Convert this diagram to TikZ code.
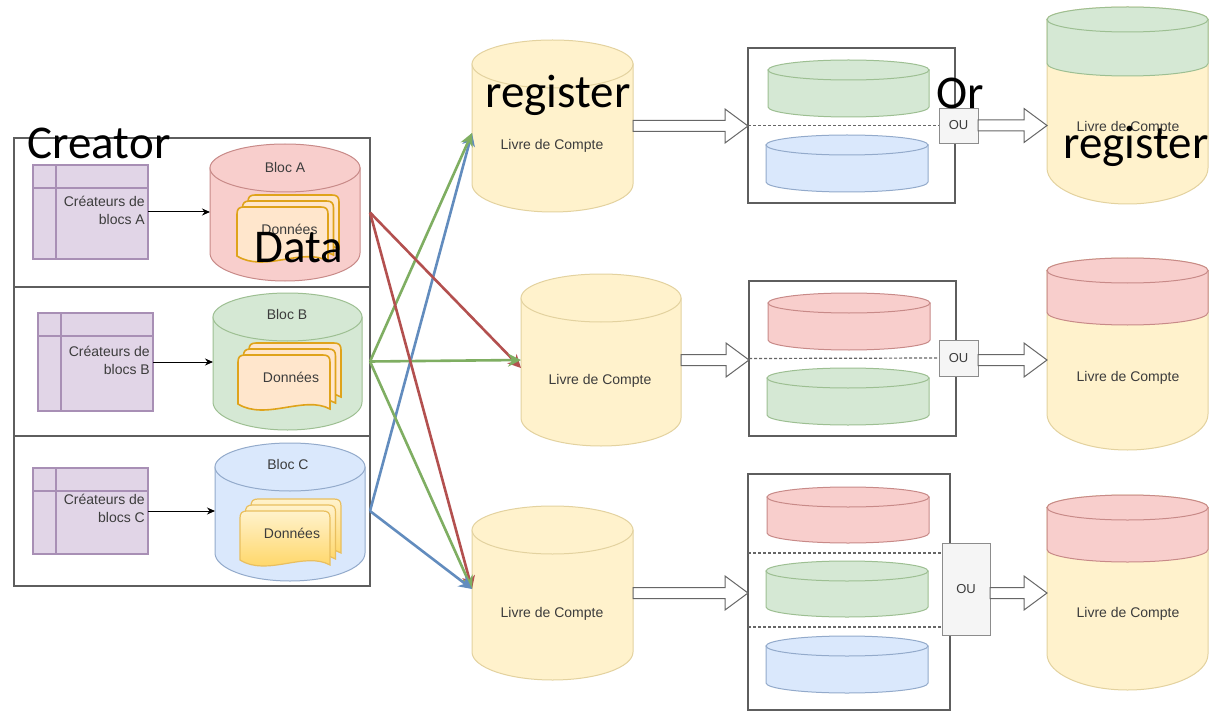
\documentclass[tikz,border=0pt]{standalone}
\usepackage{fontspec}
\setmainfont{Liberation Sans}
\newfontfamily\overlayfont{Carlito}
\usetikzlibrary{arrows.meta,calc}
\definecolor{redfill}{HTML}{F8CECC}\definecolor{redline}{HTML}{C88A88}
\definecolor{greenfill}{HTML}{D5E8D4}\definecolor{greenline}{HTML}{9DBF92}
\definecolor{bluefill}{HTML}{DAE8FC}\definecolor{blueline}{HTML}{93AACB}
\definecolor{yelfill}{HTML}{FFF2CC}\definecolor{yelline}{HTML}{E3D29F}
\definecolor{purfill}{HTML}{E1D5E7}\definecolor{purline}{HTML}{A88FB5}
\definecolor{docline}{HTML}{DFA31A}\definecolor{docfill}{HTML}{FFE6CC}
\definecolor{docbottom}{HTML}{FFD257}
\definecolor{txt}{HTML}{3C3C3C}\definecolor{frame}{HTML}{5E5E5E}
\definecolor{linkred}{HTML}{B3504F}\definecolor{linkgreen}{HTML}{7FAE62}\definecolor{linkblue}{HTML}{628CBE}
\tikzset{
  smalltext/.style={text=txt,font=\fontsize{14}{17.5}\selectfont,inner sep=0pt},
  overlay text/.style={text=black,font=\overlayfont\fontsize{47}{50}\selectfont,inner sep=0pt,anchor=base},
  framebox/.style={draw=frame,line width=1.3pt,fill=white},
  purplebox/.style={draw=purline,line width=1.2pt,fill=purfill},
  oubox/.style={draw=black!45,line width=.8pt,fill=black!4},
  feed/.style={draw=black,line width=1pt,-{Stealth[length=8pt,width=7pt]}},
  link/.style={line width=2.6pt,-{Stealth[length=13pt,width=13pt]}},
  sep/.style={draw=black!60,line width=1.2pt,densely dashed},
  openarr/.style={draw=black!60,line width=1pt,fill=white,line join=miter},
  docA/.style={draw=docline,line width=1.6pt,fill=docfill},
  docC/.style={draw=docline!70,line width=1.2pt,top color=yelfill,bottom color=docbottom},
}
\newcommand\rectnode[6]{%
  \pgfmathsetmacro\rw{#4-#2}\pgfmathsetmacro\rh{#5-#3}%
  \pgfmathsetmacro\rcx{(#2+#4)/2}\pgfmathsetmacro\rcy{(#3+#5)/2}%
  \node[#6,inner sep=0pt,outer sep=0pt,minimum width=\rw pt,minimum height=\rh pt] (#1) at (\rcx,\rcy) {};}
\newcommand\cyl[9]{%
  \pgfmathsetmacro\rx{(#4-#2)/2}\pgfmathsetmacro\mx{(#2+#4)/2}%
  \pgfmathsetmacro\ty{#3+#6}\pgfmathsetmacro\by{#5-#7}%
  \pgfmathsetmacro\cl{\mx-.55*\rx}\pgfmathsetmacro\cr{\mx+.55*\rx}\pgfmathsetmacro\cb{#5-.45*#7}%
  \draw[fill=#8,draw=#9,line width=1pt] (#2,\ty) -- (#2,\by) .. controls (#2,\cb) and (\cl,#5) .. (\mx,#5)
     .. controls (\cr,#5) and (#4,\cb) .. (#4,\by) -- (#4,\ty) -- cycle;
  \draw[fill=#8,draw=#9,line width=1pt] (\mx,\ty) ellipse [x radius=\rx, y radius=#6];
  \rectnode{#1}{#2}{#3}{#4}{#5}{}}
\newcommand\page[5]{%
  \pgfmathsetmacro\xb{#1+#3}\pgfmathsetmacro\yc{#2+#4-5}\pgfmathsetmacro\yd{#2+#4}%
  \pgfmathsetmacro\xe{#1+#3*.72}\pgfmathsetmacro\xf{#1+#3*.3}%
  \pgfmathsetmacro\yg{#2+#4-14}\pgfmathsetmacro\yh{#2+#4+12}\pgfmathsetmacro\xi{#1+7}\pgfmathsetmacro\xj{#1+#3-7}\pgfmathsetmacro\yi{#2+7}%
  \draw[#5] (#1,\yi) .. controls (#1,#2+2) and (#1+2,#2) .. (\xi,#2) -- (\xj,#2)
    .. controls (\xb-2,#2) and (\xb,#2+2) .. (\xb,\yi) -- (\xb,\yd)
    .. controls (\xe,\yg) and (\xf,\yh) .. (#1,\yc) -- cycle;}
\newcommand\docstack[6]{%
  \pgfmathsetmacro\xa{#2+11}\pgfmathsetmacro\ya{#3-12}\page{\xa}{\ya}{#4}{#5}{#6}%
  \pgfmathsetmacro\xa{#2+5.5}\pgfmathsetmacro\ya{#3-6}\page{\xa}{\ya}{#4}{#5}{#6}%
  \page{#2}{#3}{#4}{#5}{#6}%
  \pgfmathsetmacro\lx{#2+#4/2+7}\pgfmathsetmacro\ly{#3+#5/2-5}%
  \node[smalltext] (#1) at (\lx,\ly) {Données};}
\newcommand\creator[7]{%
  \rectnode{#1}{#2}{#3}{#4}{#5}{purplebox}%
  \draw[purline,line width=1.2pt] ($(#1.north west)+(23pt,0)$) -- ($(#1.south west)+(23pt,0)$);
  \draw[purline,line width=1.2pt] ($(#1.north west)+(0,-23pt)$) -- ($(#1.north east)+(0,-23pt)$);
  \node[smalltext,align=right,anchor=north east] (#1-label) at ($(#1.north east)+(-3pt,-#7pt)$) {Créateurs de\\blocs #6};}
\newcommand\openarrow[2]{%
  \draw[openarr] let \p1=(#1), \p2=(#2) in
   (\x1,\y1+5.5pt) -- (\x2-23pt,\y1+5.5pt) -- (\x2-23pt,\y1+17pt) -- (\x2,\y1)
   -- (\x2-23pt,\y1-17pt) -- (\x2-23pt,\y1-5.5pt) -- (\x1,\y1-5.5pt) -- cycle;}
\begin{document}
\begin{tikzpicture}[x=1pt,y=-1pt]
\useasboundingbox (0,0) rectangle (1209,711);
\fill[white] (0,0) rectangle (1209,711);
% left panel
\rectnode{rowA}{14}{138}{370}{287}{framebox}
\rectnode{rowB}{14}{287}{370}{436}{framebox}
\rectnode{rowC}{14}{436}{370}{586}{framebox}
\creator{creA}{33}{165}{148}{259}{A}{31}
\creator{creB}{38}{313}{153}{411}{B}{33}
\creator{creC}{33}{468}{148}{554}{C}{26}
\cyl{blocA}{210}{144}{360}{281}{24}{28}{redfill}{redline}
\cyl{blocB}{213}{293}{362}{430}{24}{28}{greenfill}{greenline}
\cyl{blocC}{215}{443}{365}{581}{24}{28}{bluefill}{blueline}
\node[smalltext] (labA) at (285,167) {Bloc A};
\node[smalltext] (labB) at (287,314) {Bloc B};
\node[smalltext] (labC) at (288,464) {Bloc C};
\docstack{dataA}{237}{207}{91}{54}{docA}
\docstack{dataB}{238}{355}{92}{54}{docA}
\docstack{dataC}{240}{511}{90}{54}{docC}
\draw[feed] (creA.east) -- (creA.east -| blocA.west);
\draw[feed] (creB.east) -- (creB.east -| blocB.west);
\draw[feed] (creC.east) -- (creC.east -| blocC.west);
% registers
\cyl{reg1}{472}{40}{633}{212}{24}{28}{yelfill}{yelline}
\cyl{reg2}{521}{274}{681}{446}{24}{28}{yelfill}{yelline}
\cyl{reg3}{472}{506}{633}{680}{24}{28}{yelfill}{yelline}
\node[smalltext] (reg1t) at (552,146) {Livre de Compte};
\node[smalltext] (reg2t) at (600,381) {Livre de Compte};
\node[smalltext] (reg3t) at (552,614) {Livre de Compte};
% links
\draw[link,linkblue] (rowC.east) -- ($(reg1.west)+(0,-7pt)$);
\draw[link,linkgreen] (rowB.east) -- ($(reg1.west)+(0,-7pt)$);
\draw[link,linkred] (rowA.east) -- ($(reg2.west)+(0,-8pt)$);
\draw[link,linkgreen] (rowB.east) -- (reg2.west);
\draw[link,linkred] (rowA.east) -- ($(reg3.west)+(0,4pt)$);
\draw[link,linkgreen] (rowB.east) -- ($(reg3.west)+(0,4pt)$);
\draw[link,linkblue] (rowC.east) -- ($(reg3.west)+(0,4pt)$);
% choice boxes
\rectnode{box1}{748}{48}{955}{203}{framebox}
\rectnode{box2}{749}{281}{956}{436}{framebox}
\rectnode{box3}{748}{474}{950}{710}{framebox}
\cyl{c1a}{768}{60}{929}{117}{10}{10}{greenfill}{greenline}
\cyl{c1b}{766}{135}{928}{192}{10}{10}{bluefill}{blueline}
\cyl{c2a}{768}{293}{930}{350}{10}{10}{redfill}{redline}
\cyl{c2b}{767}{368}{929}{425}{10}{10}{greenfill}{greenline}
\cyl{c3a}{767}{487}{929}{543}{10}{10}{redfill}{redline}
\cyl{c3b}{766}{561}{928}{617}{10}{10}{greenfill}{greenline}
\cyl{c3c}{766}{636}{928}{693}{10}{10}{bluefill}{blueline}
\rectnode{ou1}{939}{108}{978}{143}{oubox}
\rectnode{ou2}{939}{340}{978}{376}{oubox}
\rectnode{ou3}{942}{543}{990}{635}{oubox}
\node[smalltext,font=\fontsize{13}{15}\selectfont] (ou1t) at (ou1) {OU};
\node[smalltext,font=\fontsize{13}{15}\selectfont] (ou2t) at (ou2) {OU};
\node[smalltext,font=\fontsize{13}{15}\selectfont] (ou3t) at (ou3) {OU};
\draw[sep] (box1.west) -- (ou1.west);
\draw[sep] (box2.west) -- (ou2.west);
\coordinate (s1) at (748,553); \coordinate (s2) at (942,553);
\coordinate (s3) at (748,627); \coordinate (s4) at (942,627);
\draw[sep] (s1) -- (s2);
\draw[sep] (s3) -- (s4);
% big registers
\cyl{big1}{1047}{7}{1208}{204}{12.5}{36}{yelfill}{yelline}
\cyl{band1}{1047}{7}{1208}{76}{12.5}{12.5}{greenfill}{greenline}
\cyl{big2}{1047}{258}{1208}{450}{12.5}{36}{yelfill}{yelline}
\cyl{band2}{1047}{258}{1208}{325}{12.5}{12.5}{redfill}{redline}
\cyl{big3}{1047}{495}{1208}{690}{12.5}{36}{yelfill}{yelline}
\cyl{band3}{1047}{495}{1208}{562}{12.5}{12.5}{redfill}{redline}
\node[smalltext] (big1t) at (1128,128) {Livre de Compte};
\node[smalltext] (big2t) at (1128,378) {Livre de Compte};
\node[smalltext] (big3t) at (1128,614) {Livre de Compte};
% hollow arrows
\openarrow{reg1.east}{box1.west}
\openarrow{reg2.east}{box2.west}
\openarrow{reg3.east}{box3.west}
\openarrow{ou1.east}{big1.west}
\openarrow{$(ou2.east)+(0,-2pt)$}{big2.west}
\openarrow{$(ou3.east)+(0,-4pt)$}{big3.west}
% overlay labels
\node[overlay text] (tCreator) at (99,159) {Creator};
\node[overlay text] (tData) at (299,262) {Data};
\node[overlay text] (tReg1) at (558,108) {register};
\node[overlay text] (tOr) at (960,109) {Or};
\node[overlay text] (tReg2) at (1136,159) {register};
\end{tikzpicture}
\end{document}
